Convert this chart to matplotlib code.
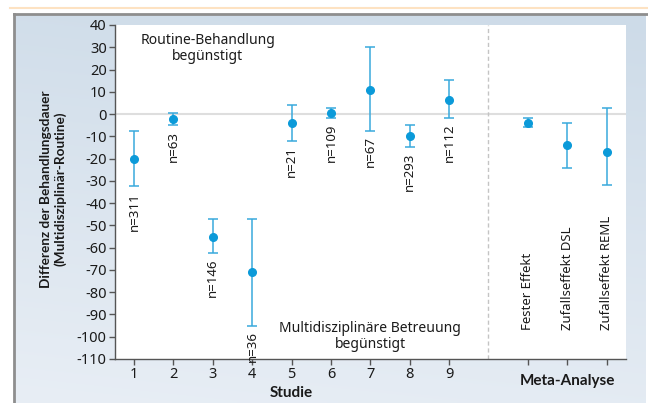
import numpy as np
import matplotlib
matplotlib.use("Agg")
import matplotlib.pyplot as plt
from matplotlib.colors import to_rgb

plt.rcParams['font.family'] = ['Noto Sans', 'DejaVu Sans']
BOLD_FAMILY = ['Lato', 'Open Sans', 'DejaVu Sans']

# ---- data ----
study_pos = [1, 2, 3, 4, 5, 6, 7, 8, 9]
study_mean = [-20, -2, -55, -71, -4, 0.5, 11, -10, 6.5]
study_low = [-32.5, -5, -62.5, -95, -12, -1.7, -7.5, -14.8, -1.8]
study_high = [-7.5, 0.6, -47, -47, 4, 2.8, 30, -5, 15.5]
study_n = ["n=311", "n=63", "n=146", "n=36", "n=21", "n=109", "n=67", "n=293", "n=112"]

meta_pos = [11, 12, 13]
meta_mean = [-4, -14, -17]
meta_low = [-6, -24, -32]
meta_high = [-1.8, -4, 2.8]
meta_labels = ["Fester Effekt", "Zufallseffekt DSL", "Zufallseffekt REML"]

xtick_pos = [1, 2, 3, 4, 5, 6, 7, 8, 9, 11, 12, 13]
xtick_labels = ["1", "2", "3", "4", "5", "6", "7", "8", "9", "", "", ""]
ytick_vals = list(range(-110, 41, 10))

W, H = 648, 403
fig = plt.figure(figsize=(W / 100, H / 100), dpi=100)
fig.patch.set_facecolor("white")

# ---- background panel ----
bax = fig.add_axes([0, 0, 1, 1], zorder=-10)
bax.set_xlim(0, W)
bax.set_ylim(H, 0)
bax.axis("off")
c_tr = np.array(to_rgb("#cddbe8"))
c_bl = np.array(to_rgb("#e8eef5"))
gy, gx = np.mgrid[0:1:100j, 0:1:100j]
t = np.clip(0.85 * gy + 0.15 * (1 - gx), 0, 1)[..., None]
img = c_tr * (1 - t) + c_bl * t
bax.imshow(img, extent=(15, 646, H, 15), aspect="auto", interpolation="bilinear")
bax.plot([10, W], [8, 8], color="#fde2c2", lw=1.5)
bax.plot([14, W], [14, 14], color="#8e8e8e", lw=2)
bax.plot([14, 14], [14, H], color="#8e8e8e", lw=2)

# ---- main axes ----
ax = fig.add_axes([115 / W, 1 - 359 / H, (626 - 115) / W, (359 - 25) / H])
ax.set_facecolor("white")
ax.set_xlim(0.517, 13.495)
ax.set_ylim(-110, 40)

ax.axhline(0, color="#dedede", lw=1.5, zorder=1)
ax.axvline(10, color="#c4c4c4", lw=1.0, ls=(0, (3, 2)), zorder=1)

err_col = "#39a9dc"
pt_col = "#0b9ad9"

def draw(pos, mean, low, high):
    m = np.array(mean, dtype=float)
    lo = m - np.array(low, dtype=float)
    hi = np.array(high, dtype=float) - m
    ax.errorbar(pos, m, yerr=[lo, hi], fmt="o", color=pt_col, ecolor=err_col,
                elinewidth=1.1, capsize=3.8, capthick=1.1, markersize=5.5, zorder=3)

draw(study_pos, study_mean, study_low, study_high)
draw(meta_pos, meta_mean, meta_low, meta_high)

for p, lo, lab in zip(study_pos, study_low, study_n):
    ax.annotate(lab, xy=(p, lo), xytext=(0, -4), textcoords="offset points",
                rotation=90, ha="center", va="top", fontsize=9.5, color="#1a1a1a")

for p, lab in zip(meta_pos, meta_labels):
    ax.text(p, -97, lab, rotation=90, ha="center", va="bottom", fontsize=9.5, color="#1a1a1a")

ax.text(2.87, 36.5, "Routine-Behandlung\nbegünstigt", ha="center", va="top",
        fontsize=10, color="#1a1a1a", linespacing=1.15)
ax.text(7.0, -107, "Multidisziplinäre Betreuung\nbegünstigt", ha="center", va="bottom",
        fontsize=10, color="#1a1a1a", linespacing=1.15)

for s in ["top", "right"]:
    ax.spines[s].set_visible(False)
for s in ["left", "bottom"]:
    ax.spines[s].set_color("#555555")
    ax.spines[s].set_linewidth(1.0)

ax.set_yticks(ytick_vals)
ax.set_yticklabels([str(v) for v in ytick_vals])
ax.set_xticks(xtick_pos)
ax.set_xticklabels(xtick_labels)
ax.tick_params(axis="both", direction="out", length=4, width=1, color="#555555",
               labelsize=10.5, labelcolor="#1a1a1a", pad=2)

trans = ax.get_xaxis_transform()
ax.text(12, -0.045, "Meta-Analyse", transform=trans, ha="center", va="top",
        fontsize=11, fontweight="bold", family=BOLD_FAMILY, color="#1a1a1a")
ax.text(5, -(393 - 359) / (359 - 25), "Studie", transform=trans, ha="center", va="center",
        fontsize=11, fontweight="bold", family=BOLD_FAMILY, color="#1a1a1a")

fig.text(53 / W, 1 - 189 / H, "Differenz der Behandlungsdauer\n(Multidisziplinär-Routine)",
         rotation=90, ha="center", va="center", fontsize=9.8, fontweight="bold",
         family=BOLD_FAMILY, color="#1a1a1a", multialignment="center", linespacing=1.15)

fig.savefig("out.png", dpi=100)
